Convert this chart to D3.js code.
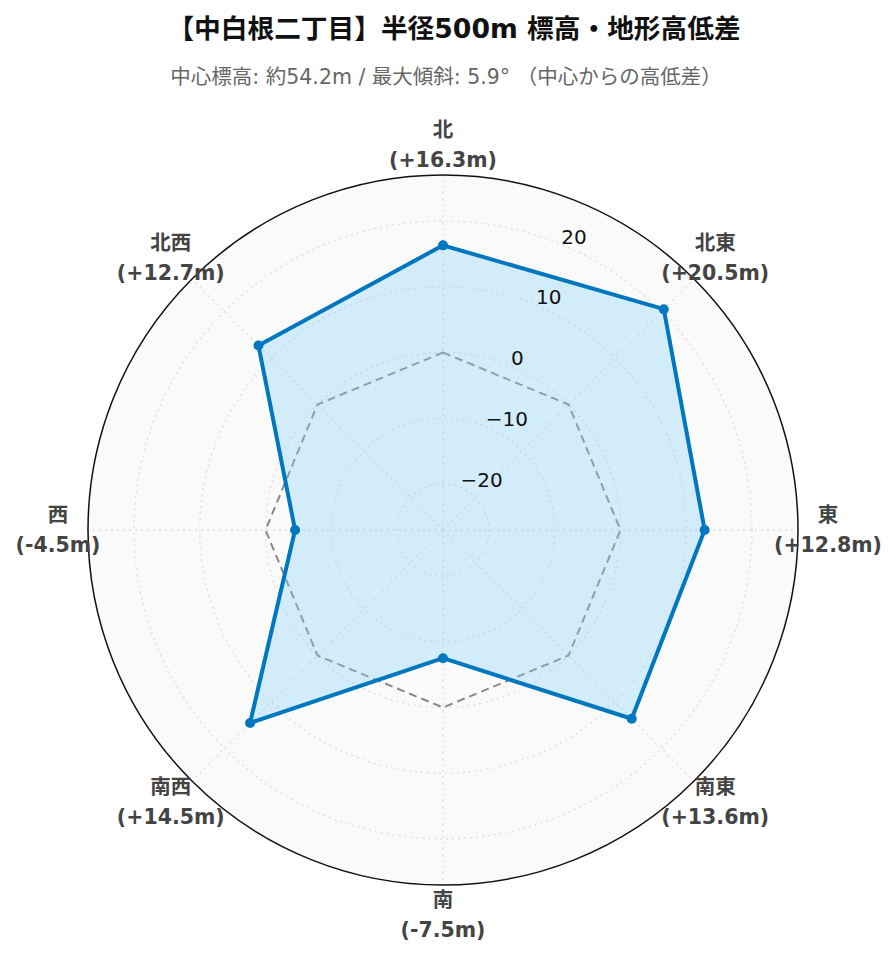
<!DOCTYPE html>
<html><head><meta charset="utf-8">
<script src="https://cdn.jsdelivr.net/npm/d3@7"></script>
<style>body{margin:0;background:#fff}svg{display:block}</style>
</head><body><div id="chart"></div>
<script>
const titleText = "【中白根二丁目】半径500m 標高・地形高低差";
const subtitleText = "中心標高: 約54.2m / 最大傾斜: 5.9° （中心からの高低差）";
const directions = ["北","北東","東","南東","南","南西","西","北西"];
const diffs = [16.3, 20.5, 12.8, 13.6, -7.5, 14.5, -4.5, 12.7];
const baseline = [0,0,0,0,0,0,0,0];
const radialTicks = [-20,-10,0,10,20];
const radialDomain = [-27, 27];

const W = 896, H = 962, cx = 443, cy = 530, R = 355;
const svg = d3.select("#chart").append("svg").attr("width", W).attr("height", H);
const font = "'DejaVu Sans','Noto Sans CJK JP',sans-serif";

const r = d3.scaleLinear().domain(radialDomain).range([0, R]);
const angStep = 360 / directions.length;
const a = d => directions.indexOf(d) * angStep * Math.PI / 180;

svg.append("text").attr("x", 454).attr("y", 38).attr("text-anchor","middle")
  .attr("font-family", font).attr("font-weight","bold").attr("font-size", 26.7).attr("fill","#111").text(titleText);
svg.append("text").attr("x", 446).attr("y", 84).attr("text-anchor","middle")
  .attr("font-family", font).attr("font-size", 20.5).attr("fill","#666").text(subtitleText);

const g = svg.append("g").attr("transform", `translate(${cx},${cy})`);
g.append("circle").attr("r", R).attr("fill", "#fafafa");

g.selectAll(".gc").data(radialTicks).join("circle").attr("r", d => r(d))
  .attr("fill","none").attr("stroke","#ddd").attr("stroke-width",1.3).attr("stroke-dasharray","2,4");
g.selectAll(".ga").data(directions).join("line")
  .attr("x1",0).attr("y1",0)
  .attr("x2", d => R*Math.sin(a(d))).attr("y2", d => -R*Math.cos(a(d)))
  .attr("stroke","#ddd").attr("stroke-width",1.3).attr("stroke-dasharray","2,4");

const line = d3.lineRadial().angle((d,i) => a(directions[i])).radius(d => r(d)).curve(d3.curveLinearClosed);

g.append("path").attr("d", line(baseline)).attr("fill","none").attr("stroke","#888")
  .attr("stroke-width",2).attr("stroke-dasharray","8,5");

g.append("path").attr("d", line(diffs)).attr("fill","rgba(135,210,245,0.35)")
  .attr("stroke","#0077bf").attr("stroke-width",4).attr("stroke-linejoin","round");

g.selectAll(".pt").data(diffs).join("circle")
  .attr("cx", (d,i) => r(d)*Math.sin(a(directions[i])))
  .attr("cy", (d,i) => -r(d)*Math.cos(a(directions[i])))
  .attr("r", 5).attr("fill","#0077bf");

g.append("circle").attr("r", R).attr("fill","none").attr("stroke","#111").attr("stroke-width",1.5);

const ra = 22.5 * Math.PI / 180;
g.selectAll(".rt").data(radialTicks).join("text")
  .attr("x", d => r(d)*Math.sin(ra)).attr("y", d => -r(d)*Math.cos(ra) - 1)
  .attr("font-family","'DejaVu Sans',sans-serif").attr("font-size",20).attr("fill","#111")
  .text(d => d < 0 ? "\u2212" + Math.abs(d) : d);

const lab = g.selectAll(".al").data(directions).join("text")
  .attr("text-anchor","middle").attr("font-family", font).attr("font-weight","bold")
  .attr("font-size",20.5).attr("fill","#444");
lab.append("tspan").attr("x", d => 385*Math.sin(a(d))).attr("y", d => -385*Math.cos(a(d)) - 8)
  .text(d => d);
lab.append("tspan").attr("x", d => 385*Math.sin(a(d))).attr("y", d => -385*Math.cos(a(d)) + 22)
  .text((d,i) => "(" + (diffs[i] >= 0 ? "+" : "") + diffs[i].toFixed(1) + "m)");
</script></body></html>
